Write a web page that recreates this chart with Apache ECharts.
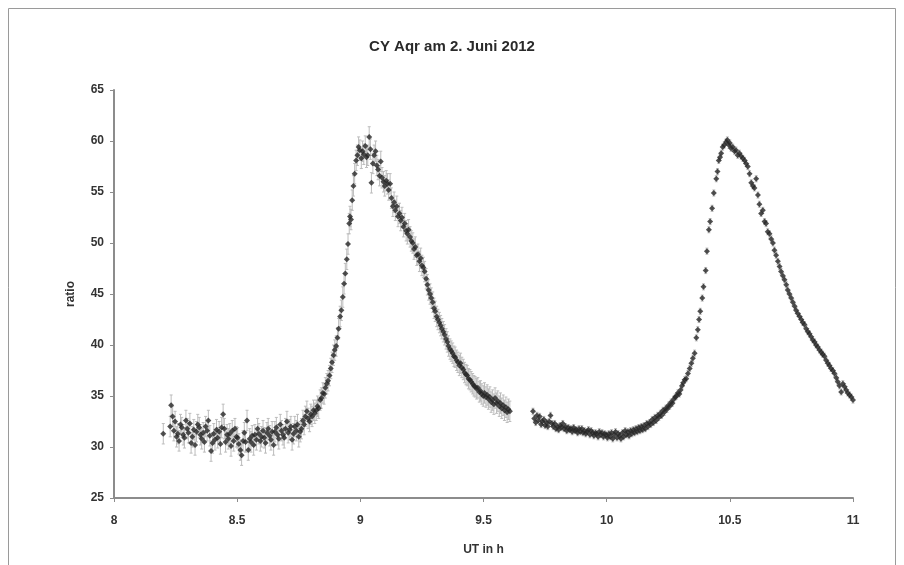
<!DOCTYPE html>
<html>
<head>
<meta charset="utf-8">
<script src="https://cdn.jsdelivr.net/npm/echarts@6/dist/echarts.min.js"></script>
<style>
  html, body { margin: 0; padding: 0; background: #fff; }
  #chart { width: 904px; height: 565px; }
</style>
</head>
<body>
<div id="chart"></div>
<script>
// Lichtkurve, erster Abschnitt (UT in h, ratio)
const run1 = [
  [8.200,31.3],[8.228,32.0],[8.232,34.1],[8.238,33.0],[8.243,31.6],[8.248,32.5],[8.254,31.0],[8.259,31.3],
  [8.264,30.6],[8.270,32.2],[8.275,31.9],[8.281,31.2],[8.286,30.9],[8.292,32.6],[8.297,31.8],[8.302,31.4],
  [8.308,32.3],[8.313,30.4],[8.318,31.0],[8.324,31.7],[8.329,30.2],[8.335,31.5],[8.340,32.2],[8.346,31.9],
  [8.351,31.2],[8.356,30.8],[8.362,31.4],[8.367,30.5],[8.372,32.0],[8.378,31.6],[8.383,32.6],[8.389,31.1],
  [8.394,29.6],[8.400,30.4],[8.405,31.3],[8.410,30.7],[8.416,31.7],[8.421,30.9],[8.427,31.5],[8.432,30.3],
  [8.437,31.9],[8.443,33.2],[8.448,31.8],[8.453,30.5],[8.459,31.2],[8.464,30.8],[8.470,31.3],[8.475,30.1],
  [8.480,31.6],[8.486,30.6],[8.491,31.8],[8.497,31.0],[8.502,30.9],[8.507,30.3],[8.513,29.7],[8.518,29.2],
  [8.524,30.6],[8.529,31.4],[8.534,30.5],[8.540,32.6],[8.545,29.7],[8.551,30.8],[8.556,30.5],[8.561,31.1],
  [8.567,30.2],[8.572,31.2],[8.578,30.7],[8.583,31.8],[8.588,31.3],[8.594,30.6],[8.599,31.0],[8.605,31.6],
  [8.610,30.9],[8.615,30.4],[8.621,31.4],[8.626,31.8],[8.632,31.1],[8.637,30.7],[8.642,31.5],[8.648,30.2],
  [8.653,31.5],[8.659,31.9],[8.664,31.2],[8.669,30.8],[8.675,32.2],[8.680,31.6],[8.686,31.2],[8.691,30.9],
  [8.696,31.8],[8.702,32.5],[8.707,31.4],[8.713,31.7],[8.718,32.0],[8.723,30.7],[8.729,31.3],[8.734,32.0],
  [8.740,31.6],[8.745,32.2],[8.750,31.0],[8.756,31.5],[8.761,31.8],[8.767,32.6],[8.772,32.2],[8.777,33.0],
  [8.783,33.5],[8.788,32.8],[8.794,32.5],[8.799,33.2],[8.804,33.0],[8.810,33.6],[8.815,33.3],[8.821,33.6],
  [8.826,34.0],[8.831,33.8],[8.837,34.6],[8.842,34.8],[8.848,35.3],[8.853,35.2],[8.858,35.8],[8.864,36.2],
  [8.869,36.5],[8.875,37.0],[8.880,37.7],[8.885,38.3],[8.891,39.0],[8.896,39.5],[8.902,39.9],[8.907,40.7],
  [8.912,41.6],[8.918,42.8],[8.923,43.4],[8.929,44.7],[8.934,46.0],[8.939,47.0],[8.945,48.4],[8.950,49.9],
  [8.955,51.9],[8.958,52.6],[8.962,52.3],[8.967,54.2],[8.972,55.6],[8.977,56.8],[8.983,58.1],[8.988,58.6],
  [8.993,59.4],[8.998,59.1],[9.004,58.3],[9.009,59.0],[9.014,58.7],[9.020,59.5],[9.025,58.4],[9.030,58.6],
  [9.036,60.4],[9.041,59.2],[9.045,55.9],[9.051,57.8],[9.056,58.6],[9.062,59.0],[9.067,57.6],[9.072,57.2],
  [9.078,56.6],[9.083,58.0],[9.088,56.4],[9.094,56.0],[9.099,55.6],[9.105,56.1],[9.110,55.8],[9.115,55.2],
  [9.121,55.8],[9.126,54.4],[9.132,53.6],[9.137,54.0],[9.142,53.2],[9.148,53.6],[9.153,52.6],[9.159,52.9],
  [9.164,52.2],[9.169,52.5],[9.175,51.6],[9.180,51.9],[9.186,51.2],[9.191,50.9],[9.196,51.3],[9.202,50.6],
  [9.207,50.2],[9.213,50.0],[9.218,49.4],[9.223,49.6],[9.229,48.8],[9.234,48.9],[9.240,48.2],[9.245,48.5],
  [9.250,47.8],[9.256,47.6],[9.261,47.2],[9.267,46.5],[9.272,45.9],[9.277,45.4],[9.283,45.0],[9.288,44.6],
  [9.294,44.2],[9.299,43.6],[9.304,43.3],[9.310,42.8],[9.315,42.5],[9.321,42.2],[9.326,41.9],[9.331,41.6],
  [9.337,41.3],[9.342,41.0],[9.348,40.6],[9.353,40.3],[9.358,39.9],[9.364,39.6],[9.369,39.4],[9.375,39.2],
  [9.380,38.9],[9.385,38.8],[9.391,38.5],[9.396,38.3],[9.402,38.0],[9.407,38.2],[9.412,37.8],[9.418,37.6],
  [9.423,37.3],[9.429,37.1],[9.434,37.0],[9.439,36.7],[9.445,36.6],[9.450,36.4],[9.456,36.2],[9.461,36.0],
  [9.466,35.9],[9.472,35.7],[9.477,35.8],[9.483,35.4],[9.488,35.5],[9.493,35.2],[9.499,35.0],[9.504,35.3],
  [9.510,34.9],[9.515,35.1],[9.520,34.7],[9.526,34.9],[9.531,34.4],[9.537,34.6],[9.542,34.2],[9.547,34.8],
  [9.553,34.3],[9.558,34.5],[9.564,34.0],[9.569,34.3],[9.574,33.8],[9.580,34.1],[9.585,33.6],[9.591,33.9],
  [9.596,33.4],[9.601,33.7],[9.607,33.5]
];

// zweiter Abschnitt
const run2 = [
  [9.701,33.5],[9.706,32.8],[9.712,32.4],[9.717,33.1],[9.723,32.6],[9.728,33.0],[9.734,32.2],[9.739,32.5],
  [9.745,32.7],[9.750,32.1],[9.756,32.4],[9.761,32.0],[9.767,32.5],[9.772,33.1],[9.778,32.3],[9.783,32.0],
  [9.789,32.3],[9.794,31.8],[9.800,32.0],[9.805,31.7],[9.811,32.1],[9.816,31.9],[9.822,32.3],[9.827,31.8],
  [9.833,32.0],[9.838,31.6],[9.844,31.9],[9.849,31.7],[9.855,31.8],[9.860,31.5],[9.866,31.9],[9.871,31.6],
  [9.877,31.7],[9.882,31.4],[9.888,31.8],[9.893,31.5],[9.899,31.8],[9.904,31.4],[9.910,31.6],[9.915,31.3],
  [9.921,31.5],[9.926,31.7],[9.932,31.2],[9.937,31.6],[9.943,31.4],[9.948,31.1],[9.954,31.4],[9.959,31.3],
  [9.965,31.0],[9.970,31.5],[9.976,31.2],[9.981,31.4],[9.987,31.0],[9.992,31.3],[9.998,31.2],[10.003,30.9],
  [10.009,31.3],[10.014,31.0],[10.020,31.4],[10.025,30.8],[10.031,31.2],[10.036,31.5],[10.042,30.9],[10.047,31.3],
  [10.053,31.1],[10.058,30.8],[10.064,31.4],[10.069,31.0],[10.075,31.6],[10.080,31.2],[10.086,31.5],[10.091,31.1],
  [10.097,31.6],[10.102,31.3],[10.108,31.7],[10.113,31.4],[10.119,31.8],[10.124,31.5],[10.130,31.9],[10.135,31.6],
  [10.141,32.0],[10.146,31.7],[10.152,32.1],[10.157,31.8],[10.163,32.3],[10.168,32.0],[10.174,32.4],[10.179,32.2],
  [10.185,32.7],[10.190,32.4],[10.196,32.9],[10.201,32.6],[10.207,33.1],[10.212,32.9],[10.218,33.3],[10.223,33.1],
  [10.229,33.6],[10.234,33.4],[10.240,33.8],[10.245,33.7],[10.251,34.1],[10.256,34.0],[10.262,34.4],[10.267,34.3],
  [10.273,34.7],[10.278,34.9],[10.284,35.0],[10.289,35.3],[10.295,35.2],[10.300,35.6],[10.306,36.0],[10.311,36.3],
  [10.317,36.6],[10.323,36.7],[10.330,37.2],[10.337,37.7],[10.344,38.2],[10.350,38.7],[10.357,39.2],[10.364,40.7],
  [10.370,41.5],[10.375,42.5],[10.380,43.3],[10.388,44.6],[10.393,45.7],[10.402,47.3],[10.407,49.2],[10.415,51.3],
  [10.420,52.1],[10.428,53.4],[10.435,54.9],[10.445,56.3],[10.450,57.0],[10.455,58.1],[10.460,58.4],[10.465,58.8],
  [10.471,59.4],[10.477,59.6],[10.485,59.9],[10.490,60.1],[10.496,59.6],[10.500,59.8],[10.505,59.3],[10.512,59.4],
  [10.519,59.0],[10.525,59.1],[10.532,58.6],[10.539,58.8],[10.546,58.5],[10.553,58.3],[10.560,58.1],[10.566,57.8],
  [10.573,57.5],[10.580,56.8],[10.587,55.9],[10.594,55.6],[10.600,55.4],[10.607,56.3],[10.614,54.7],[10.620,53.8],
  [10.627,52.9],[10.634,53.2],[10.641,52.1],[10.647,51.9],[10.654,51.1],[10.661,50.9],[10.668,50.4],[10.675,50.0],
  [10.681,49.3],[10.688,48.8],[10.695,48.2],[10.702,47.7],[10.708,47.2],[10.715,46.8],[10.722,46.4],[10.729,45.9],
  [10.735,45.4],[10.742,45.0],[10.749,44.6],[10.756,44.2],[10.763,43.8],[10.769,43.4],[10.776,43.1],[10.783,42.8],
  [10.790,42.5],[10.796,42.2],[10.803,42.0],[10.810,41.6],[10.817,41.3],[10.823,41.1],[10.830,40.8],[10.837,40.5],
  [10.844,40.3],[10.850,40.0],[10.857,39.8],[10.864,39.5],[10.871,39.3],[10.877,39.1],[10.884,38.9],[10.891,38.5],
  [10.898,38.2],[10.904,38.0],[10.911,37.7],[10.918,37.5],[10.925,37.2],[10.932,36.8],[10.938,36.4],[10.945,36.0],
  [10.952,35.4],[10.959,36.2],[10.966,35.9],[10.972,35.6],[10.979,35.3],[10.986,35.1],[10.993,34.9],[11.000,34.6]
];

// Fehlerbalken (± ratio) je Abschnitt
const run1Err = 1.0;
const run2Err = 0.3;

const xTicks = [8, 8.5, 9, 9.5, 10, 10.5, 11];
const yTicks = [25, 30, 35, 40, 45, 50, 55, 60, 65];

const errData = run1.map(p => [p[0], p[1], run1Err]).concat(run2.map(p => [p[0], p[1], run2Err]));

function renderErr(params, api) {
  const x = api.value(0), y = api.value(1), e = api.value(2);
  const top = api.coord([x, y + e]);
  const bot = api.coord([x, y - e]);
  const st = {stroke: '#bcbcbc', lineWidth: 1};
  return {
    type: 'group',
    children: [
      {type: 'line', shape: {x1: top[0], y1: top[1], x2: bot[0], y2: bot[1]}, style: st},
      {type: 'line', shape: {x1: top[0] - 1.5, y1: top[1], x2: top[0] + 1.5, y2: top[1]}, style: st},
      {type: 'line', shape: {x1: bot[0] - 1.5, y1: bot[1], x2: bot[0] + 1.5, y2: bot[1]}, style: st}
    ]
  };
}

const font = 'Liberation Sans, Arial, sans-serif';
const chart = echarts.init(document.getElementById('chart'), null, {renderer: 'canvas'});

chart.setOption({
  backgroundColor: '#fff',
  animation: false,
  title: {
    text: 'CY Aqr am 2. Juni 2012',
    left: 'center',
    top: 34,
    textStyle: {fontFamily: font, fontSize: 15, fontWeight: 'bold', color: '#2a2a2a'}
  },
  graphic: [{
    type: 'rect',
    shape: {x: 8.5, y: 8.5, width: 887, height: 580},
    style: {fill: 'none', stroke: '#9a9a9a', lineWidth: 1},
    silent: true
  }],
  grid: {left: 114, right: 51, top: 90, bottom: 67},
  xAxis: {
    type: 'value',
    min: xTicks[0],
    max: xTicks[xTicks.length - 1],
    interval: 0.5,
    name: 'UT in h',
    nameLocation: 'middle',
    nameGap: 46,
    nameTextStyle: {fontFamily: font, fontSize: 12, fontWeight: 'bold', color: '#333'},
    axisLine: {lineStyle: {color: '#8c8c8c', width: 2}},
    axisTick: {length: 4, lineStyle: {color: '#8c8c8c', width: 1}},
    axisLabel: {fontFamily: font, fontSize: 12, fontWeight: 'bold', color: '#333', margin: 17},
    splitLine: {show: false}
  },
  yAxis: {
    type: 'value',
    min: yTicks[0],
    max: yTicks[yTicks.length - 1],
    interval: 5,
    name: 'ratio',
    nameLocation: 'middle',
    nameGap: 37,
    nameTextStyle: {fontFamily: font, fontSize: 12, fontWeight: 'bold', color: '#333'},
    axisLine: {show: true, lineStyle: {color: '#8c8c8c', width: 2}},
    axisTick: {show: true, length: 4, lineStyle: {color: '#8c8c8c', width: 1}},
    axisLabel: {fontFamily: font, fontSize: 12, fontWeight: 'bold', color: '#333', margin: 10},
    splitLine: {show: false}
  },
  series: [
    {
      type: 'custom',
      renderItem: renderErr,
      data: errData,
      z: 1,
      silent: true
    },
    {
      type: 'scatter',
      data: run1,
      symbol: 'diamond',
      symbolSize: 6,
      itemStyle: {color: '#262626'},
      z: 3
    },
    {
      type: 'scatter',
      data: run2,
      symbol: 'diamond',
      symbolSize: 6,
      itemStyle: {color: '#262626'},
      z: 3
    }
  ]
});
</script>
</body>
</html>
